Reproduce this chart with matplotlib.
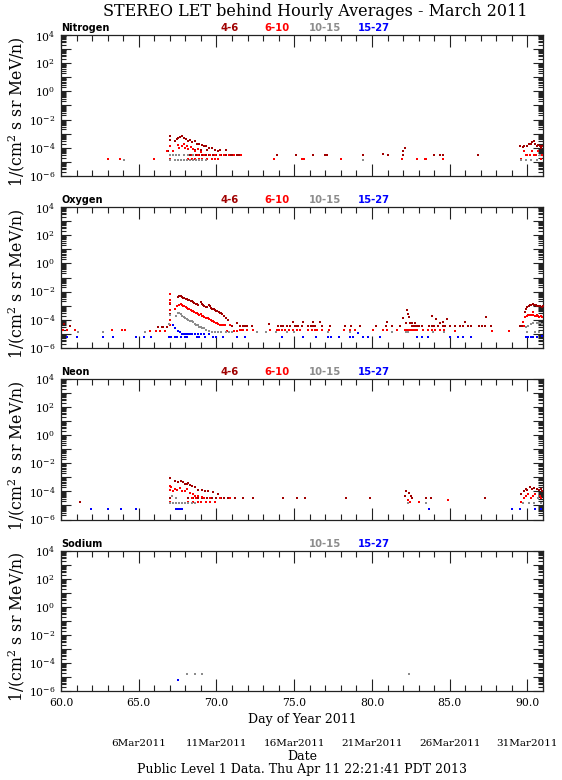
import numpy as np
import matplotlib
matplotlib.use('Agg')
import matplotlib.pyplot as plt
import matplotlib.transforms as mtransforms
from matplotlib.ticker import FixedLocator, LogLocator, MultipleLocator, FuncFormatter, NullFormatter

plt.rcParams['font.family'] = 'DejaVu Serif'
plt.rcParams['mathtext.fontset'] = 'dejavuserif'

# ---------------- data (day of year, log10 intensity) ----------------
channels = ['4-6', '6-10', '10-15', '15-27']
colors = ['#a00000', '#ff0000', '#8c8c8c', '#0000ff']
panel_names = ['Nitrogen', 'Oxygen', 'Neon', 'Sodium']

# Nitrogen
N46_day = [66.9, 67.0, 67.0, 67.33, 67.44, 67.55, 67.66, 67.8, 67.93, 68.05, 68.15, 68.3, 68.45, 68.6, 68.75,
           68.9, 69.05, 69.2, 69.35, 69.5, 69.7, 69.9, 70.1,
           68.3, 68.5, 68.7, 68.9, 69.1, 69.3, 69.55, 69.8, 70.0, 70.3, 70.6, 70.9, 71.0, 71.3, 71.4, 71.5,
           68.6, 69.0, 69.4, 69.9, 70.2, 70.6,
           73.9, 75.1, 76.2, 77.0, 77.1, 79.4, 80.7, 81.0, 82.0, 82.0, 82.1, 84.0, 84.4, 84.6, 86.8,
           89.55, 89.7, 89.8, 90.0, 90.1, 90.2, 90.3, 90.4, 90.5, 90.6, 90.7, 90.8, 90.9, 90.95]
N46_lg = [-4.2, -3.15, -3.45, -3.5, -3.4, -3.3, -3.2, -3.15, -3.3, -3.4, -3.5, -3.45, -3.6, -3.55, -3.7,
          -3.75, -3.8, -3.85, -3.9, -4.0, -4.0, -4.15, -4.2,
          -4.5, -4.5, -4.5, -4.5, -4.5, -4.5, -4.5, -4.5, -4.5, -4.5, -4.5, -4.5, -4.5, -4.5, -4.5, -4.5,
          -4.16, -4.16, -4.16, -4.16, -4.16, -4.16,
          -4.5, -4.5, -4.5, -4.5, -4.5, -4.5, -4.45, -4.5, -4.5, -4.2, -4.0, -4.5, -4.5, -4.5, -4.5,
          -3.9, -3.95, -3.9, -3.85, -3.7, -3.75, -3.6, -3.5, -3.75, -3.85, -3.8, -3.9, -4.0, -3.85]
N610_day = [63.0, 63.8, 66.0, 66.8, 67.0, 67.0, 67.0, 67.2, 67.5, 67.6, 67.8, 67.9, 68.0, 68.1, 68.2, 68.35,
            68.5, 68.65, 68.8, 69.0,
            68.4, 68.8, 69.2, 69.6, 69.9, 70.2, 70.5, 70.8, 71.1, 71.6,
            68.2, 68.4, 68.6, 68.9, 69.1, 69.4, 69.7, 69.9, 70.1,
            73.7, 75.5, 75.6, 78.0, 81.9, 82.9, 83.4, 83.5, 84.6,
            89.6, 89.75, 89.9, 90.0, 90.15, 90.3, 90.45, 90.55, 90.7, 90.8, 90.9, 90.95]
N610_lg = [-4.8, -4.8, -4.8, -4.2, -3.85, -4.5, -4.8, -4.2, -3.8, -4.0, -3.9, -3.75, -4.0, -3.85, -4.1, -3.95,
           -4.1, -4.2, -4.1, -4.3,
           -4.5, -4.5, -4.5, -4.5, -4.5, -4.5, -4.5, -4.5, -4.5, -4.5,
           -4.8, -4.8, -4.8, -4.8, -4.8, -4.8, -4.8, -4.8, -4.8,
           -4.8, -4.8, -4.8, -4.8, -4.8, -4.8, -4.8, -4.8, -4.8,
           -4.8, -4.2, -4.5, -4.5, -4.5, -4.2, -4.5, -4.5, -4.2, -4.5, -4.8, -4.5]
N1015_day = [64.03, 67.0, 67.0, 67.2, 67.4, 67.6, 67.9, 68.2, 68.5,
             67.3, 67.5, 67.7, 67.9, 68.1, 68.3, 68.5, 68.7, 68.9, 69.1, 69.3,
             79.45, 89.6, 89.9, 90.2, 90.6, 90.8]
N1015_lg = [-4.85, -4.5, -4.85, -4.5, -4.5, -4.5, -4.5, -4.5, -4.5,
            -4.85, -4.85, -4.85, -4.85, -4.85, -4.85, -4.85, -4.85, -4.85, -4.85, -4.85,
            -4.9, -4.85, -4.85, -4.85, -4.85, -4.5]
N1527_day = []
N1527_lg = []

# Oxygen
O46_day = [60.2, 60.6, 66.26, 66.48, 66.58, 66.8, 67.0, 67.0,
           67.55, 67.62, 67.7, 67.78, 67.86, 67.94, 68.02, 68.1, 68.18, 68.26, 68.34, 68.42, 68.5, 68.58,
           68.66, 68.74, 68.82, 68.98, 69.06, 69.14, 69.22, 69.3, 69.38, 69.5, 69.58, 69.66, 69.74, 69.82,
           69.9, 69.98, 70.06, 70.14, 70.22, 70.3, 70.38, 70.5, 70.6,
           70.75, 70.98, 71.3,
           71.51, 71.68, 71.83, 71.98, 72.26, 73.4, 73.98, 74.13, 74.3, 74.51, 74.73, 74.9, 75.05, 75.15,
           75.26, 75.48, 75.54, 75.9, 76.05, 76.18, 76.33, 76.23, 76.65, 76.76, 77.3, 78.26, 78.65, 79.23,
           80.26, 80.88, 80.94, 81.26, 81.8, 82.01, 82.23, 82.34, 82.4, 82.2, 82.45, 82.6, 82.75,
           82.55, 82.66, 82.76, 82.87, 83.02, 83.19, 83.69, 83.84, 83.88, 83.99, 84.11, 84.26, 84.37,
           84.59, 84.8,
           84.54, 84.69, 85.01, 85.33, 85.66, 85.83, 85.98, 86.19, 86.4, 86.9, 87.05, 87.26, 87.31, 87.65,
           89.51, 89.62, 89.84, 89.9, 89.99, 90.08, 90.16, 90.25, 90.33, 90.4, 90.48, 90.56, 90.63, 90.72,
           90.8, 90.91, 90.97]
O46_lg = [-4.3, -4.45, -4.49, -4.49, -4.49, -4.49, -2.9, -3.6,
          -2.35, -2.3, -2.32, -2.38, -2.42, -2.47, -2.5, -2.55, -2.6, -2.63, -2.66, -2.7, -2.75, -2.8,
          -2.85, -2.88, -2.92, -2.75, -2.85, -2.95, -3.0, -3.08, -3.1, -2.95, -3.05, -3.15, -3.2, -3.25,
          -3.3, -3.35, -3.4, -3.45, -3.5, -3.55, -3.6, -3.75, -3.9,
          -4.0, -4.45, -4.25,
          -4.44, -4.44, -4.44, -4.44, -4.44, -4.33, -4.44, -4.44, -4.44, -4.44, -4.44, -4.18, -4.44, -4.44,
          -4.44, -4.44, -4.18, -4.44, -4.44, -4.44, -4.44, -4.18, -4.18, -4.44, -4.44, -4.44, -4.44, -4.44,
          -4.44, -4.44, -4.18, -4.44, -4.44, -3.9, -3.3, -3.6, -3.78, -4.2, -4.2, -4.2, -4.2,
          -4.44, -4.44, -4.44, -4.44, -4.44, -4.44, -4.44, -4.44, -3.73, -4.44, -3.97, -4.44, -4.25,
          -4.44, -3.97,
          -4.13, -4.44, -4.44, -4.44, -4.44, -4.44, -4.13, -4.44, -4.44, -4.44, -4.44, -4.44, -3.78, -4.44,
          -4.44, -4.44, -3.42, -3.2, -3.07, -3.0, -2.95, -2.92, -2.9, -2.95, -2.95, -2.98, -3.0, -3.0,
          -3.02, -3.07, -3.05]
O610_day = [60.1, 60.4, 60.9, 63.26, 63.9, 64.12, 65.7, 66.1, 66.37, 66.69,
            67.0, 67.0, 67.0, 67.0, 67.0, 67.0, 67.0,
            67.3, 67.45, 67.6, 67.7, 67.78, 67.86, 67.94, 68.02, 68.1, 68.18, 68.26, 68.34, 68.42, 68.5,
            68.58, 68.66, 68.74, 68.82, 68.9, 68.98, 69.06, 69.14, 69.22, 69.3, 69.38, 69.46, 69.54, 69.62,
            69.7, 69.78, 69.86, 69.94, 70.02, 70.1, 70.2, 70.3,
            70.4, 70.55, 70.65, 70.9, 71.1, 71.3,
            71.51, 71.62, 71.72, 71.94, 72.32, 73.44, 73.91, 74.04, 74.19, 74.4, 74.68, 74.94, 75.15, 75.37,
            75.9, 76.12, 76.33, 76.48, 76.76, 77.25, 78.2, 78.58, 78.91, 80.08, 80.68, 80.94, 81.58, 82.12,
            82.23, 82.34, 82.44, 82.55, 82.66, 82.76, 82.87, 83.3, 83.62, 83.84, 84.05, 84.37, 84.63,
            85.33, 87.74, 88.83, 89.73, 89.77, 89.84, 89.94, 90.05, 90.12, 90.2, 90.28, 90.37, 90.37,
            90.48, 90.56, 90.63, 90.7, 90.76, 90.84, 90.91]
O610_lg = [-4.75, -4.75, -4.75, -4.75, -4.75, -4.75, -4.77, -4.77, -4.77, -4.77,
           -2.2, -2.6, -2.8, -3.3, -3.65, -4.0, -4.35,
           -3.2, -3.0, -2.95, -2.9, -2.95, -3.0, -3.05, -3.1, -3.15, -3.2, -3.25, -3.3, -3.35, -3.4,
           -3.45, -3.5, -3.55, -3.6, -3.65, -3.6, -3.7, -3.75, -3.8, -3.85, -3.9, -3.85, -3.95, -4.0,
           -4.05, -4.1, -4.15, -4.2, -4.25, -4.3, -4.35, -4.4,
           -4.37, -4.4, -4.77, -4.4, -4.77, -4.77,
           -4.72, -4.72, -4.72, -4.72, -4.72, -4.72, -4.72, -4.72, -4.72, -4.72, -4.72, -4.72, -4.72, -4.72,
           -4.72, -4.72, -4.72, -4.72, -4.72, -4.72, -4.72, -4.72, -4.72, -4.72, -4.72, -4.72, -4.72, -4.72,
           -4.72, -4.72, -4.72, -4.72, -4.72, -4.72, -4.72, -4.72, -4.72, -4.72, -4.72, -4.72, -4.72,
           -4.77, -4.77, -4.77, -4.13, -4.44, -3.78, -3.7, -3.68, -3.66, -3.66, -3.68, -3.66, -3.42,
           -3.7, -3.7, -3.68, -3.72, -3.78, -3.75, -3.78]
O1015_day = [61.1, 62.68, 65.4, 66.95, 67.0,
             67.4, 67.5, 67.6, 67.7, 67.8, 67.9, 68.0, 68.1, 68.2, 68.3, 68.4, 68.5, 68.6, 68.7, 68.8,
             68.9, 69.0, 69.1, 69.2, 69.35, 69.5, 69.7, 69.9, 70.1, 70.3, 70.6, 70.8, 71.0,
             72.58, 73.18, 73.83, 74.51, 75.0, 77.19, 78.58, 81.26, 82.16, 82.34, 83.94, 84.63,
             89.9, 89.99, 90.05, 90.2, 90.37, 90.59, 90.8, 90.91, 90.5, 90.75]
O1015_lg = [-4.85, -4.84, -4.84, -4.3, -3.65,
            -3.7, -3.55, -3.5, -3.6, -3.7, -3.8, -3.9, -3.95, -4.0, -4.05, -4.1, -4.15, -4.3, -4.35, -4.4,
            -4.5, -4.5, -4.55, -4.6, -4.7, -4.8, -4.85, -4.85, -4.85, -4.85, -4.85, -4.85, -4.85,
            -4.84, -4.84, -4.84, -4.84, -4.84, -4.84, -4.84, -4.84, -4.84, -4.84, -4.84, -4.84,
            -4.49, -4.84, -4.44, -4.3, -4.25, -4.2, -4.25, -4.3, -4.84, -4.84]
O1527_day = [60.4, 61.0, 62.68, 63.37, 64.83, 65.36, 65.77, 66.95, 67.08, 67.33, 67.48, 67.74, 68.0, 68.13,
             68.73, 68.9, 69.26, 69.76, 69.99, 70.4, 71.3, 71.84, 74.19,
             67.2, 67.35, 67.5, 67.65, 67.8, 67.9, 68.0, 68.1, 68.2, 68.3, 68.45, 68.6, 68.8, 69.0, 69.2, 69.5,
             75.58, 76.4, 77.19, 77.34, 77.88, 78.58, 78.8, 79.44, 79.76, 80.51, 82.87, 83.19, 83.58, 79.12,
             85.01, 85.55, 85.83, 86.36, 89.9, 90.05, 90.2, 90.37, 90.59, 90.91]
O1527_lg = [-5.25, -5.25, -5.25, -5.25, -5.25, -5.25, -5.25, -5.25, -5.25, -5.25, -5.25, -5.25, -5.25, -5.25,
            -5.25, -5.25, -5.25, -5.25, -5.25, -5.25, -5.25, -5.25, -5.25,
            -4.4, -4.55, -4.8, -4.85, -5.0, -5.0, -5.0, -5.0, -5.0, -5.0, -5.0, -5.0, -5.0, -5.0, -5.0, -5.0,
            -5.25, -5.25, -5.25, -5.25, -5.25, -5.25, -5.25, -5.25, -5.25, -5.25, -5.25, -5.25, -5.25, -4.96,
            -5.2, -5.2, -5.2, -5.2, -5.2, -5.2, -5.2, -5.2, -5.2, -5.15]

# Neon
Ne46_day = [61.2, 67.01, 67.01, 67.33, 67.55, 67.72, 67.87, 67.98, 68.1, 68.19, 68.3, 68.41, 68.62, 68.84,
            69.05, 69.26, 69.48, 69.8, 70.1,
            68.2, 68.5, 68.8, 69.1, 69.4, 69.7, 70.0, 70.3, 70.5, 70.76, 71.19, 71.73,
            72.35, 74.3, 75.2, 75.7, 78.3, 79.9, 82.1, 82.2, 82.35, 82.5, 82.6, 83.5, 83.8, 87.3,
            89.6, 89.8, 89.9, 90.0, 90.15, 90.3, 90.45, 90.6, 90.75, 90.9, 90.95]
Ne46_lg = [-4.75, -3.07, -4.48, -3.24, -3.3, -3.24, -3.35, -3.47, -3.5, -3.4, -3.55, -3.6, -3.7, -3.87,
           -3.9, -3.96, -4.0, -4.05, -4.15,
           -4.48, -4.48, -4.48, -4.48, -4.48, -4.48, -4.48, -4.48, -4.48, -4.48, -4.48, -4.48,
           -4.48, -4.48, -4.48, -4.48, -4.48, -4.48, -4.3, -4.0, -4.1, -4.3, -4.48, -4.48, -4.48, -4.48,
           -4.2, -4.0, -3.8, -3.9, -3.7, -3.8, -3.75, -3.85, -3.9, -3.8, -4.0]
Ne610_day = [67.01, 67.01, 67.08, 67.23, 67.33, 67.45, 67.66, 67.81, 67.98, 68.1, 68.3, 68.51, 68.62, 68.84, 69.05,
             68.4, 68.7, 69.2, 69.6, 70.2, 70.9,
             67.0, 68.2, 68.5, 68.8, 69.0, 69.3, 69.6, 69.9,
             82.3, 82.45, 83.0, 84.9,
             89.6, 89.75, 89.9, 90.05, 90.2, 90.35, 90.5, 90.65, 90.8, 90.9]
Ne610_lg = [-3.64, -3.87, -3.7, -3.96, -3.8, -3.9, -3.77, -3.96, -3.96, -3.85, -4.1, -4.18, -4.3, -4.3, -4.41,
            -4.48, -4.48, -4.48, -4.48, -4.48, -4.48,
            -4.77, -4.77, -4.77, -4.77, -4.77, -4.77, -4.77, -4.77,
            -4.6, -4.77, -4.77, -4.6,
            -4.77, -4.48, -4.3, -4.2, -4.48, -4.3, -4.2, -4.48, -4.3, -4.48]
Ne1015_day = [67.0, 67.2, 67.4, 67.6, 67.8, 68.0, 68.2, 68.4, 68.6, 67.15, 67.4,
              82.3, 83.5, 89.7, 90.1, 90.4, 90.7, 90.9]
Ne1015_lg = [-4.8, -4.8, -4.8, -4.8, -4.8, -4.8, -4.8, -4.8, -4.8, -4.3, -4.48,
             -4.8, -4.8, -4.8, -4.8, -4.8, -4.5, -4.8]
Ne1527_day = [61.95, 63.0, 63.86, 64.8, 67.38, 67.51, 67.66, 67.76, 83.7, 89.0, 89.5, 90.5, 90.9]
Ne1527_lg = [-5.24, -5.24, -5.24, -5.24, -5.24, -5.24, -5.24, -5.24, -5.24, -5.24, -5.24, -5.24, -5.24]

# Sodium
Na1015_day = [68.1, 68.6, 69.1, 82.4]
Na1015_lg = [-4.8, -4.8, -4.8, -4.8]
Na1527_day = [67.5]
Na1527_lg = [-5.2]

panels = [
    [(N46_day, N46_lg), (N610_day, N610_lg), (N1015_day, N1015_lg), (N1527_day, N1527_lg)],
    [(O46_day, O46_lg), (O610_day, O610_lg), (O1015_day, O1015_lg), (O1527_day, O1527_lg)],
    [(Ne46_day, Ne46_lg), (Ne610_day, Ne610_lg), (Ne1015_day, Ne1015_lg), (Ne1527_day, Ne1527_lg)],
    [([], []), ([], []), (Na1015_day, Na1015_lg), (Na1527_day, Na1527_lg)],
]
legend_shown = [[0, 1, 2, 3], [0, 1, 2, 3], [0, 1, 2, 3], [2, 3]]

x_major = [60, 65, 70, 75, 80, 85, 90]
date_labels = ['6Mar2011', '11Mar2011', '16Mar2011', '21Mar2011', '26Mar2011', '31Mar2011']
date_days = [65, 70, 75, 80, 85, 90]

# ---------------- figure ----------------
W, H = 562, 780
fig = plt.figure(figsize=(W / 100, H / 100), dpi=100)
panel_px = [(35, 176), (207, 348), (379, 519.5), (551, 691)]
leg_x = [0.349, 0.448, 0.548, 0.649]

def ylab(v, pos):
    k = int(round(np.log10(v)))
    return r'$10^{%d}$' % k if k % 2 == 0 else ''

axes = []
for i, (top, bot) in enumerate(panel_px):
    ax = fig.add_axes([61 / W, 1 - bot / H, 482 / W, (bot - top) / H])
    axes.append(ax)
    ax.set_yscale('log')
    ax.set_xlim(60, 91)
    ax.set_ylim(1e-6, 1e4)
    for j, (d, lg) in enumerate(panels[i]):
        if len(d):
            ax.scatter(d, np.power(10.0, np.array(lg)), s=2.4, marker='s', c=colors[j],
                       linewidths=0, zorder=3)
    ax.yaxis.set_major_locator(FixedLocator([10.0 ** k for k in range(-6, 5)]))
    ax.yaxis.set_major_formatter(FuncFormatter(ylab))
    ax.yaxis.set_minor_locator(LogLocator(base=10, subs=np.arange(2, 10), numticks=100))
    ax.yaxis.set_minor_formatter(NullFormatter())
    ax.xaxis.set_major_locator(FixedLocator(x_major))
    ax.xaxis.set_minor_locator(MultipleLocator(1))
    ax.tick_params(axis='both', which='both', direction='in', top=True, right=True, colors='#222222',
                   width=0.8)
    ax.tick_params(axis='x', which='major', length=8.5)
    ax.tick_params(axis='x', which='minor', length=4.2)
    ax.tick_params(axis='y', which='major', length=7)
    ax.tick_params(axis='y', which='minor', length=3.6)
    ax.tick_params(axis='y', labelsize=7.8, pad=4, labelcolor='black')
    for sp in ax.spines.values():
        sp.set_linewidth(0.9)
        sp.set_color('#222222')
    if i < 3:
        ax.tick_params(axis='x', labelbottom=False)
    else:
        ax.xaxis.set_major_formatter(FuncFormatter(lambda v, p: '%.1f' % v))
        ax.tick_params(axis='x', labelsize=7.8, pad=5, labelcolor='black')
    ax.text(0.0, 1.012, panel_names[i], transform=ax.transAxes, ha='left', va='bottom',
            fontsize=7, family='DejaVu Sans', weight='bold')
    for j in legend_shown[i]:
        ax.text(leg_x[j], 1.012, channels[j], transform=ax.transAxes, ha='center', va='bottom',
                fontsize=7.2, family='DejaVu Sans', weight='bold', color=colors[j])
    fig.text(17 / W, 1 - ((top + bot) / 2 + 6) / H, r'1/(cm$^2$ s sr MeV/n)', rotation=90,
             ha='center', va='center', fontsize=11.3)

fig.text(315 / W, 1 - 12 / H, 'STEREO LET behind Hourly Averages - March 2011', ha='center',
         va='center', fontsize=11.5)

bax = axes[-1]
cx = (61 + 241) / W
fig.text(cx, 1 - 720 / H, 'Day of Year 2011', ha='center', va='center', fontsize=9)
trans = mtransforms.blended_transform_factory(bax.transData, fig.transFigure)
for dd, lab in zip(date_days, date_labels):
    fig.text(dd, 1 - 744 / H, lab, transform=trans, ha='center', va='center', fontsize=7.5)
fig.text(cx, 1 - 757 / H, 'Date', ha='center', va='center', fontsize=9)
fig.text(cx, 1 - 770 / H, 'Public Level 1 Data. Thu Apr 11 22:21:41 PDT 2013', ha='center',
         va='center', fontsize=9)

fig.savefig('out.png', dpi=100)
